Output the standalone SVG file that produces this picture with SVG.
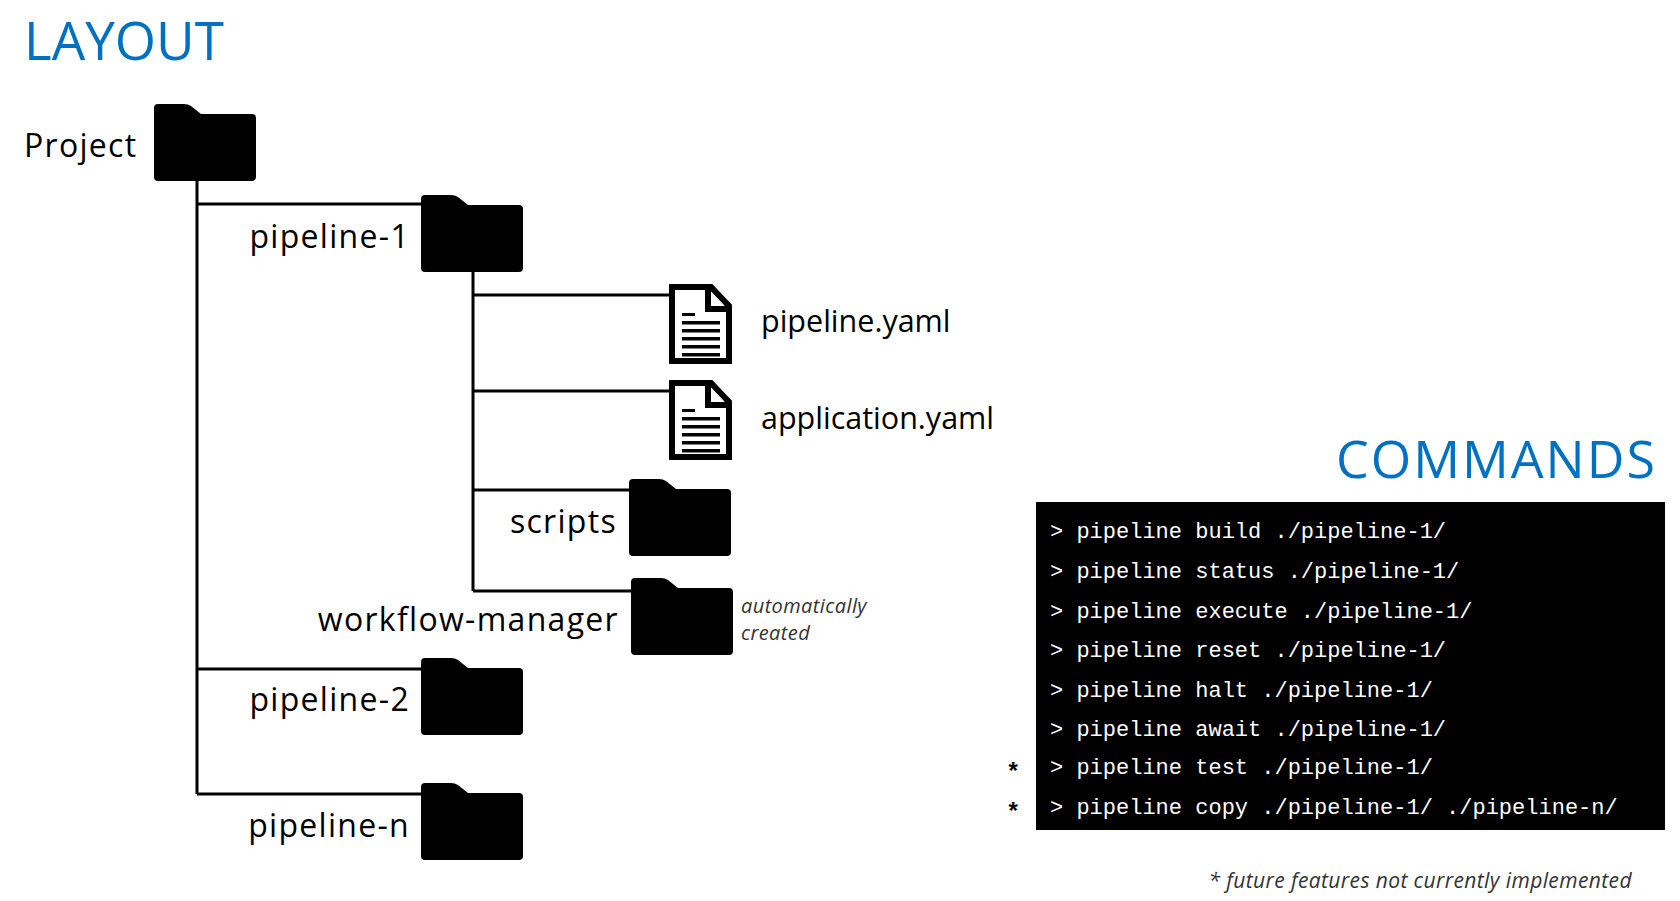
<svg xmlns="http://www.w3.org/2000/svg" width="1680" height="901" viewBox="0 0 1680 901">
<defs>
<style>
.h{font-family:"Open Sans","Liberation Sans",sans-serif;fill:#0070C0;}
.l{font-family:"Open Sans","Liberation Sans",sans-serif;font-size:32px;fill:#000;letter-spacing:1.3px;}
.f{font-family:"Open Sans","Liberation Sans",sans-serif;font-size:30.5px;fill:#000;}
.m{font-family:"Liberation Mono","DejaVu Sans Mono",monospace;font-size:22px;fill:#fff;}
.i{font-family:"Open Sans","Liberation Sans",sans-serif;font-style:italic;fill:#333;letter-spacing:0.4px;}
.c{stroke:#000;stroke-width:3;fill:none;}
</style>
<path id="folder" d="M4,0 H30 Q34,0 37,2 L47,10 H98 Q102,10 102,14 V73 Q102,77 98,77 H4 Q0,77 0,73 V4 Q0,0 4,0 Z" fill="#000"/>
<g id="file">
<path d="M3,3 H42 L60,22 V77 H3 Z" fill="#fff" stroke="#000" stroke-width="6" stroke-linejoin="miter"/>
<path d="M39,3 V25 H60" fill="none" stroke="#000" stroke-width="6"/>
<rect x="13" y="29" width="13" height="3" fill="#000"/>
<rect x="13" y="37" width="38" height="3.5" fill="#000"/>
<rect x="13" y="45" width="38" height="3.5" fill="#000"/>
<rect x="13" y="53" width="38" height="3.5" fill="#000"/>
<rect x="13" y="61" width="38" height="3.5" fill="#000"/>
<rect x="13" y="69" width="38" height="3.5" fill="#000"/>
</g>
</defs>
<rect width="1680" height="901" fill="#fff"/>
<text class="h" x="24" y="60" font-size="53">LAYOUT</text>
<g id="connectors">
<path class="c" d="M197,181 V794"/>
<path class="c" d="M197,204 H421"/>
<path class="c" d="M197,669 H421"/>
<path class="c" d="M197,794 H421"/>
<path class="c" d="M473,271 V591"/>
<path class="c" d="M473,295 H669"/>
<path class="c" d="M473,391 H669"/>
<path class="c" d="M473,490 H629"/>
<path class="c" d="M473,591 H631"/>
</g>
<g id="project"><text class="l" x="24" y="157">Project</text><use href="#folder" x="154" y="104"/></g>
<g id="pipeline-1"><text class="l" x="410" y="248" text-anchor="end">pipeline-1</text><use href="#folder" x="421" y="195"/></g>
<g id="pipeline-yaml"><use href="#file" x="669" y="284"/><text class="f" x="761" y="332">pipeline.yaml</text></g>
<g id="application-yaml"><use href="#file" x="669" y="380"/><text class="f" x="761" y="429">application.yaml</text></g>
<g id="scripts"><text class="l" x="617" y="533" text-anchor="end">scripts</text><use href="#folder" x="629" y="479"/></g>
<g id="workflow-manager"><text class="l" x="619" y="631" text-anchor="end">workflow-manager</text><use href="#folder" x="631" y="578"/>
<text class="i" x="741" y="613" font-size="20">automatically</text><text class="i" x="741" y="640" font-size="20">created</text></g>
<g id="pipeline-2"><text class="l" x="410" y="711" text-anchor="end">pipeline-2</text><use href="#folder" x="421" y="658"/></g>
<g id="pipeline-n"><text class="l" x="410" y="837" text-anchor="end">pipeline-n</text><use href="#folder" x="421" y="783"/></g>
<g id="commands">
<text class="h" x="1657" y="478" font-size="52" letter-spacing="2" text-anchor="end">COMMANDS</text>
<rect x="1036" y="502" width="629" height="328" fill="#000"/>
<text class="m" x="1050" y="538">&gt; pipeline build ./pipeline-1/</text>
<text class="m" x="1050" y="578">&gt; pipeline status ./pipeline-1/</text>
<text class="m" x="1050" y="618">&gt; pipeline execute ./pipeline-1/</text>
<text class="m" x="1050" y="657">&gt; pipeline reset ./pipeline-1/</text>
<text class="m" x="1050" y="697">&gt; pipeline halt ./pipeline-1/</text>
<text class="m" x="1050" y="736">&gt; pipeline await ./pipeline-1/</text>
<text class="m" x="1050" y="774">&gt; pipeline test ./pipeline-1/</text>
<text class="m" x="1050" y="814">&gt; pipeline copy ./pipeline-1/ ./pipeline-n/</text>
<text x="1006" y="780" font-family="Liberation Mono,monospace" font-size="24" font-weight="bold" fill="#000">*</text>
<text x="1006" y="820" font-family="Liberation Mono,monospace" font-size="24" font-weight="bold" fill="#000">*</text>
<text class="i" x="1632" y="888" font-size="21" text-anchor="end" fill="#000">* future features not currently implemented</text>
</g>
</svg>
